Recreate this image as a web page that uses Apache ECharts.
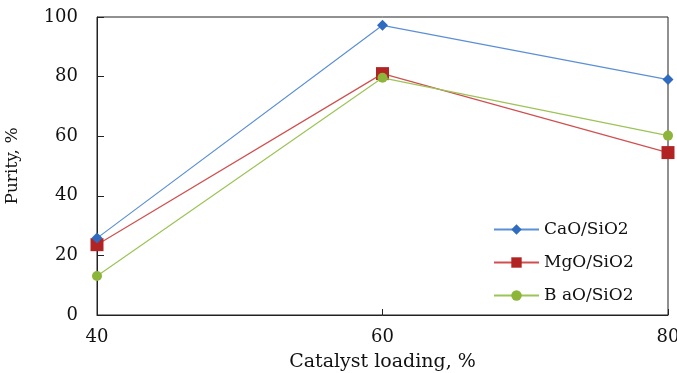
<!DOCTYPE html>
<html>
<head>
<meta charset="utf-8">
<script src="https://cdn.jsdelivr.net/npm/echarts@6/dist/echarts.min.js"></script>
<style>
  html, body { margin: 0; padding: 0; background: #fff; }
  #chart { width: 677px; height: 373px; }
</style>
</head>
<body>
<div id="chart"></div>
<script>
const loading = [40, 60, 80];
const caoPurity = [25.8, 97.2, 79];
const mgoPurity = [23.6, 81, 54.5];
const baoPurity = [13.1, 79.6, 60.2];
const seriesNames = ["CaO/SiO2", "MgO/SiO2", "B aO/SiO2"];

const font = "DejaVu Serif, Liberation Serif, serif";

const pairs = (ys) => loading.map((x, i) => [x, ys[i]]);

const chart = echarts.init(document.getElementById("chart"));

const option = {
  animation: false,
  grid: {
    left: 97,
    right: 9,
    top: 17,
    bottom: 58,
    outerBoundsMode: "none",
    show: true,
    borderColor: "#222",
    borderWidth: 1,
  },
  legend: {
    orient: "vertical",
    left: 488,
    top: 216,
    itemWidth: 45,
    itemHeight: 13,
    itemGap: 16,
    textStyle: { fontFamily: font, fontSize: 17, color: "#111" },
    data: seriesNames,
  },
  xAxis: {
    type: "value",
    min: 40,
    max: 80,
    interval: 20,
    name: "Catalyst loading, %",
    nameLocation: "middle",
    nameGap: 38,
    nameTextStyle: { fontFamily: font, fontSize: 19, color: "#111" },
    axisLine: { lineStyle: { color: "#222" } },
    axisTick: { inside: true, length: 6, lineStyle: { color: "#222" } },
    axisLabel: { fontFamily: font, fontSize: 18, color: "#111", margin: 13 },
    splitLine: { show: false },
  },
  yAxis: {
    type: "value",
    min: 0,
    max: 100,
    interval: 20,
    name: "Purity, %",
    nameLocation: "middle",
    nameGap: 76,
    nameTextStyle: { fontFamily: font, fontSize: 17, color: "#111" },
    axisLine: { show: true, lineStyle: { color: "#222" } },
    axisTick: { show: true, inside: true, length: 7, lineStyle: { color: "#222" } },
    axisLabel: { fontFamily: font, fontSize: 18, color: "#111", margin: 19 },
    splitLine: { show: false },
  },
  series: [
    {
      name: seriesNames[0],
      type: "line",
      data: pairs(caoPurity),
      symbol: "diamond",
      symbolSize: 11,
      itemStyle: { color: "#2f6cc0" },
      lineStyle: { width: 1.2, color: "#5b8fd6" },
      z: 3,
    },
    {
      name: seriesNames[1],
      type: "line",
      data: pairs(mgoPurity),
      symbol: "rect",
      symbolSize: 13,
      itemStyle: { color: "#b22424" },
      lineStyle: { width: 1.2, color: "#d05050" },
      z: 2,
    },
    {
      name: seriesNames[2],
      type: "line",
      data: pairs(baoPurity),
      symbol: "circle",
      symbolSize: 10,
      itemStyle: { color: "#8cb53a" },
      lineStyle: { width: 1.2, color: "#9cc456" },
      z: 4,
    },
  ],
};

chart.setOption(option);
</script>
</body>
</html>
